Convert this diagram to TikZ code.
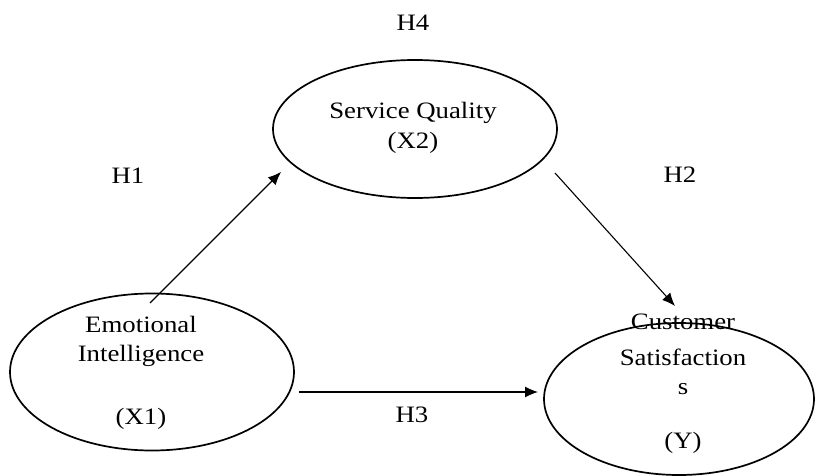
\documentclass[tikz,border=0pt]{standalone}
\usepackage{fontspec}
\setmainfont[FakeStretch=1.14]{Liberation Serif}
\usetikzlibrary{shapes.geometric,arrows.meta}
\begin{document}
\begin{tikzpicture}[x=1pt,y=-1pt,
  oval/.style={draw,ellipse,line width=1.7pt,inner sep=0pt},
  lbl/.style={inner sep=0pt,font=\fontsize{23.5}{27}\selectfont},
  conn/.style={draw,line width=1.1pt,-{Latex[length=13pt,width=11pt]}}]
\useasboundingbox (0,0) rectangle (815,476);
% ellipses
\node[oval,minimum width=284pt,minimum height=138pt] (sq) at (415,129) {};
\node[oval,minimum width=284pt,minimum height=157pt] (ei) at (152,372) {};
\node[oval,minimum width=270pt,minimum height=152pt] (cs) at (679,399) {};
% texts
\node[lbl] (h4) at (413,23) {H4};
\node[lbl] (t1) at (413,113) {Service Quality};
\node[lbl] (t2) at (413,143) {(X2)};
\node[lbl] (h1) at (128,176) {H1};
\node[lbl] (h2) at (680,175) {H2};
\node[lbl] (h3) at (412,415) {H3};
\node[lbl] (e1) at (141,324) {Emotional};
\node[lbl] (e2) at (141,356) {Intelligence};
\node[lbl] (e3) at (141,419) {(X1)};
\node[lbl,anchor=base] (c1) at (683,329) {Customer};
\node[lbl] (c2) at (683,357) {Satisfaction};
\node[lbl] (c3) at (683,389) {s};
\node[lbl] (c4) at (683,443) {(Y)};
% connector ends
\coordinate (a1s) at (150,303);
\coordinate (a1e) at (281,172);
\coordinate (a2s) at (555,173);
\coordinate (a2e) at (675,306);
\coordinate (a3s) at (299,392);
\coordinate (a3e) at (538,392);
\draw[conn] (a1s) -- (a1e);
\draw[conn] (a2s) -- (a2e);
\draw[conn] (a3s) -- (a3e);
\end{tikzpicture}
\end{document}
